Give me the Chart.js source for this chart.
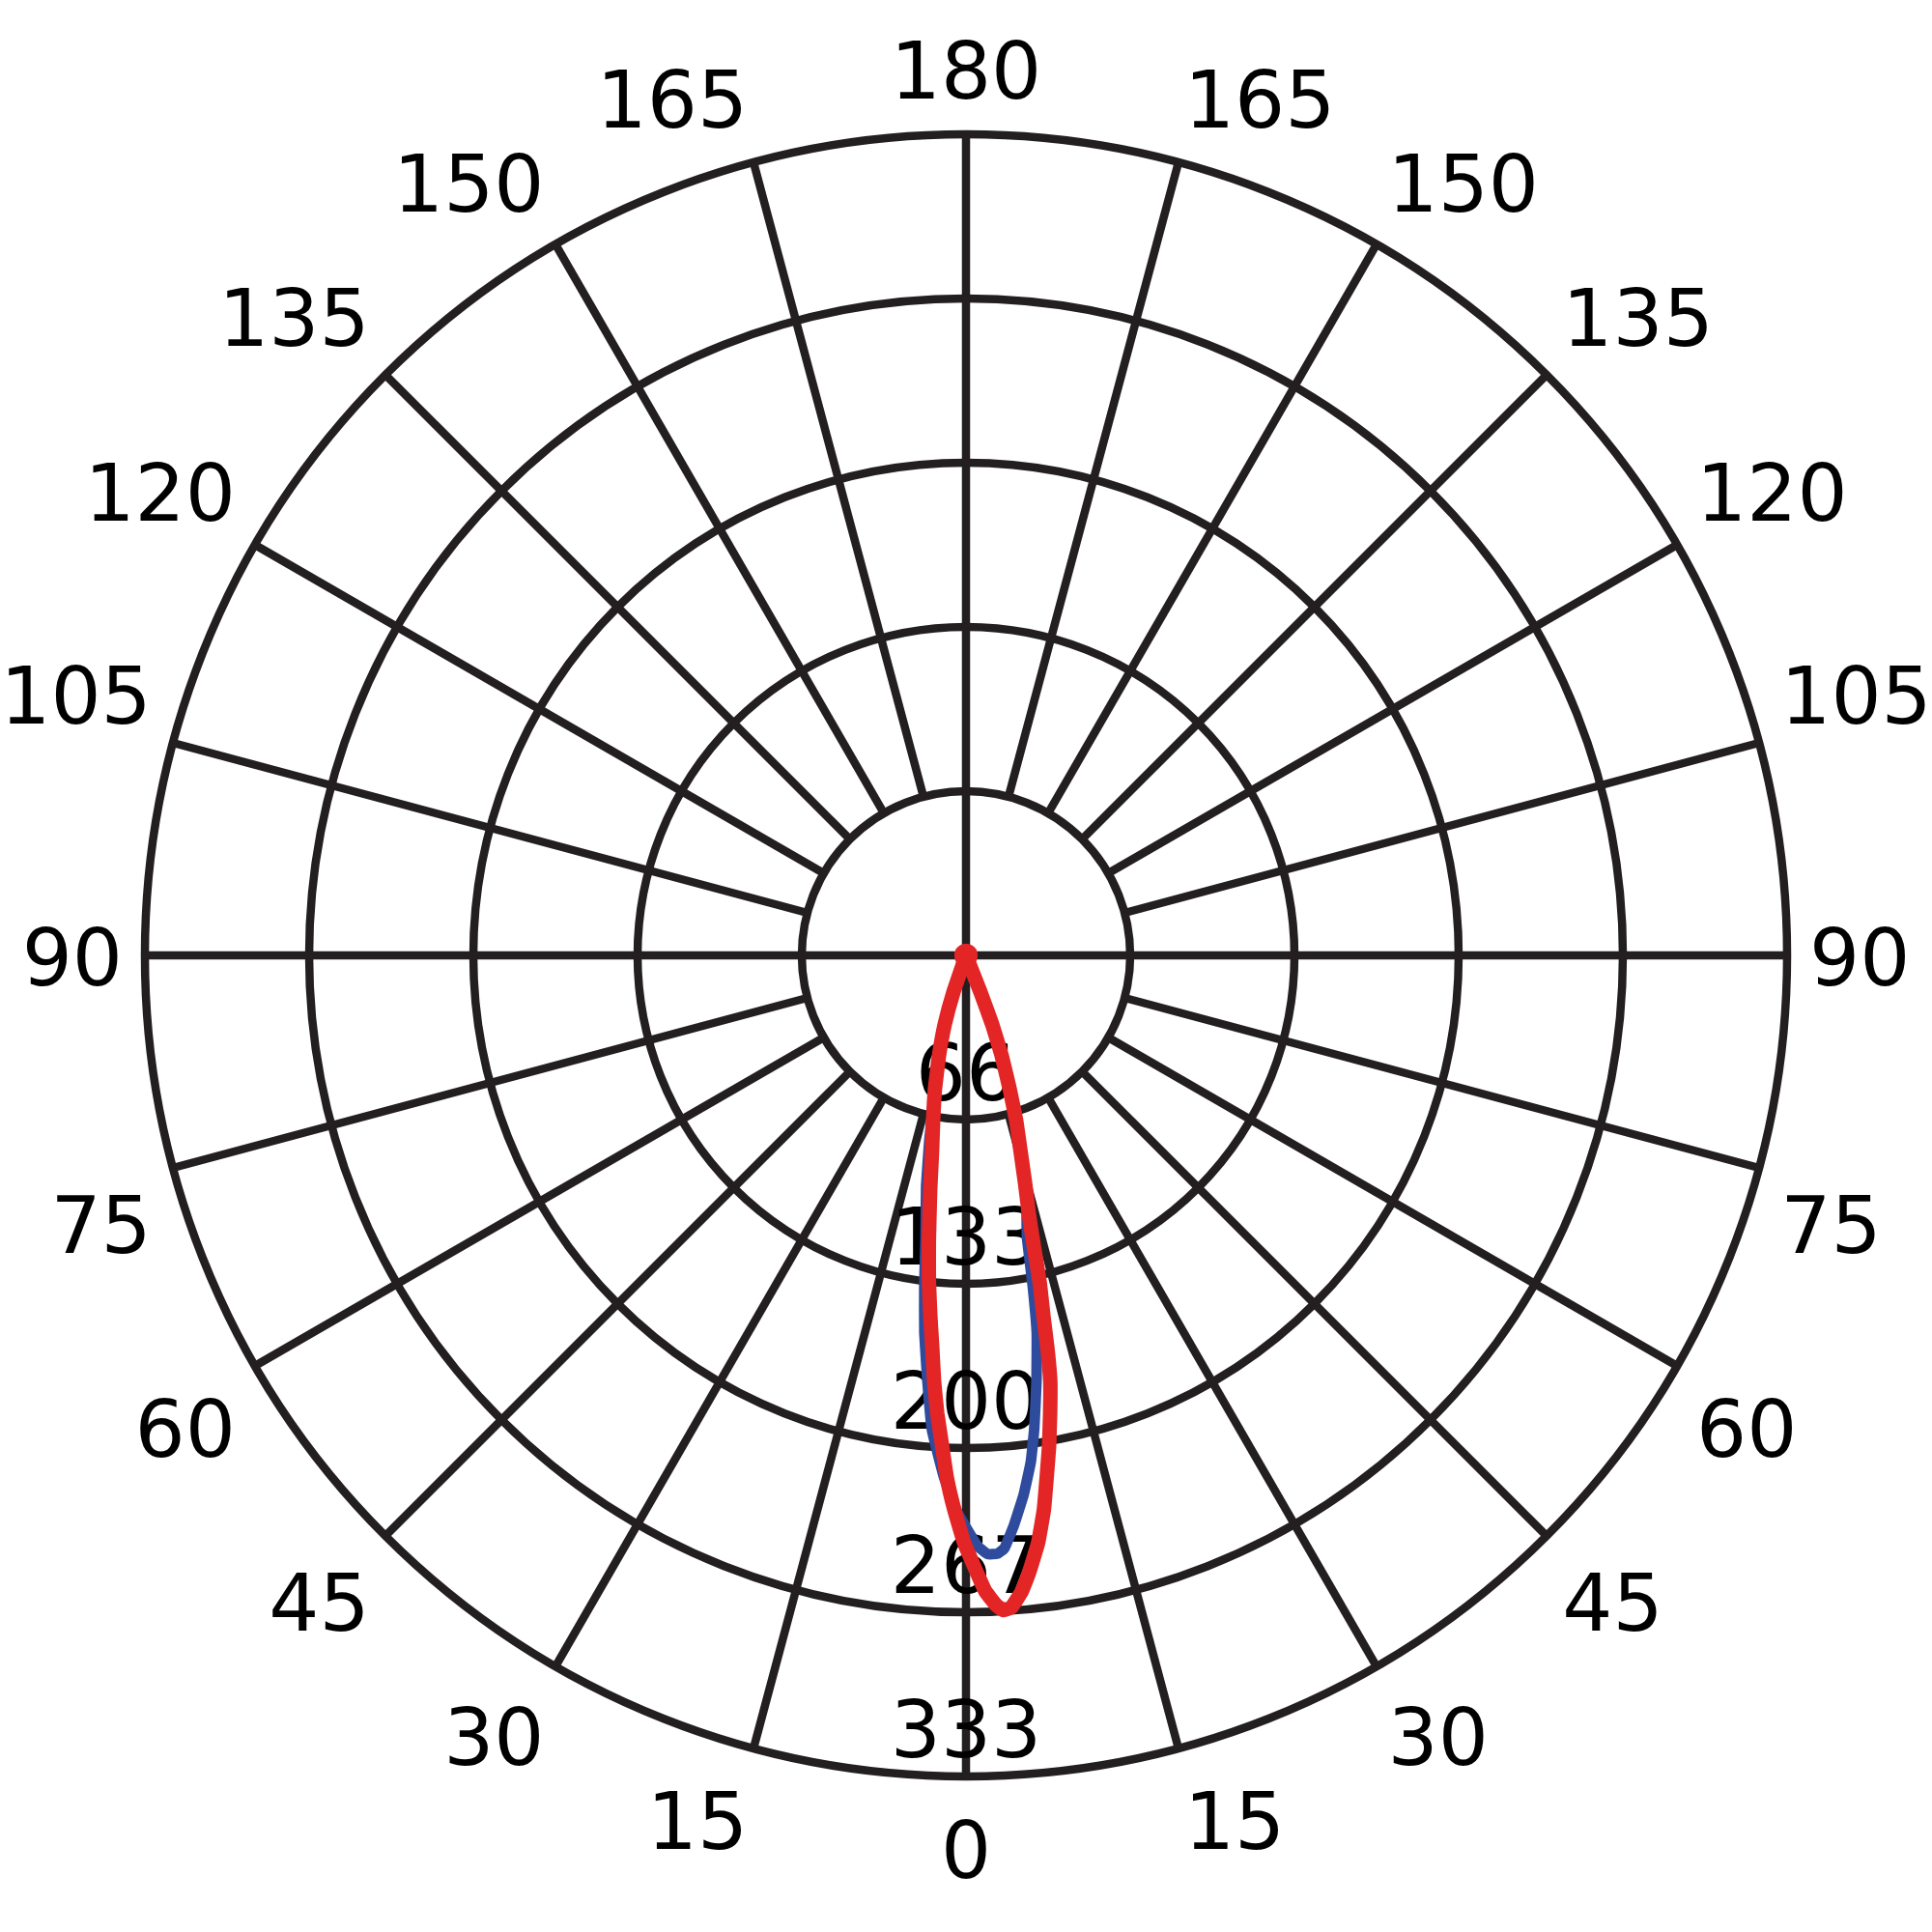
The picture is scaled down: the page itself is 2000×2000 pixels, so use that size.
<!DOCTYPE html>
<html>
<head>
<meta charset="utf-8">
<script src="https://cdn.jsdelivr.net/npm/chart.js@4.4.0/dist/chart.umd.min.js"></script>
<style>
  html, body { margin: 0; padding: 0; background: #fff; }
  #wrap { width: 2000px; height: 2000px; }
</style>
</head>
<body>
<div id="wrap"><canvas id="polar" width="2000" height="2000"></canvas></div>
<script>
// intensity rings and the numbers printed on them
var maxValue = 333;
var ringValues = [66.6, 133.2, 199.8, 266.4, 333];
var ringLabels = ["66", "133", "200", "267", "333"];

// angle ticks, degrees from nadir, drawn on both halves
var angleTicks = [0, 15, 30, 45, 60, 75, 90, 105, 120, 135, 150, 165, 180];

// blue curve: angle (deg, + is to the right of nadir) and intensity
var blueAngles = [-20, -18.9, -17.2, -15.1, -13.1, -11.25, -9.8, -8.2, -7.2, -6.3, -5.2, -4.1, -2.4, -1.0, 0.3, 1.2, 2.1, 3.0, 3.7, 4.8, 6.1, 7.3, 8.2, 9.4, 10.6, 11.4, 12.2, 13.4, 14.6, 15.7, 16.9, 18.1, 19.6, 20.8, 21.5, 22];
var blueValues = [0, 15.7, 29, 42, 55.5, 76, 95, 115, 135, 154, 173, 193, 212, 225, 234, 240, 243, 243, 241, 232, 220, 207, 194, 175, 156, 137, 117, 106, 96, 81, 70, 57, 43, 30, 16, 0];

// red curve
var redAngles = [-20, -18.9, -17.2, -15.1, -13.1, -11.3, -9.8, -8.7, -7.4, -6.5, -5.65, -4.9, -4.3, -3.6, -2.8, -2.1, -1.2, -0.2, 1.07, 1.74, 2.7, 3.3, 4.0, 5.0, 5.8, 7.0, 8.0, 8.8, 9.6, 10.4, 11.2, 11.7, 12.1, 12.7, 13.1, 13.6, 14.5, 15.7, 16.9, 18.1, 19.6, 20.8, 21.5, 22];
var redValues = [0, 15.7, 29, 42, 55.5, 68, 81, 96, 117, 133, 147, 160, 173, 186, 199, 212, 225, 238, 251, 258, 264, 266, 265, 259, 252, 240, 227, 214, 202, 189, 176, 163, 150, 136, 122, 109, 96, 81, 70, 57, 43, 30, 16, 0];

function toXY(angles, values) {
    return angles.map(function(a, i) {
        var t = a * Math.PI / 180;
        return { x: values[i] * Math.sin(t), y: -values[i] * Math.cos(t) };
    });
}

var gridColor = '#231f20';

// draws rings, spokes and labels from the x/y scales
var polarGrid = {
    id: 'polarGrid',
    beforeDatasetsDraw: function(chart) {
        var ctx = chart.ctx, xs = chart.scales.x, ys = chart.scales.y;
        var cx = xs.getPixelForValue(0), cy = ys.getPixelForValue(0);
        var k = xs.getPixelForValue(1) - cx;
        var R = maxValue * k, r0 = ringValues[0] * k;
        ctx.save();
        ctx.strokeStyle = gridColor;
        ctx.lineWidth = 8.5;

        ringValues.forEach(function(v) {
            ctx.beginPath();
            ctx.arc(cx, cy, v * k, 0, 2 * Math.PI);
            ctx.stroke();
        });

        // spokes every 15 deg, main axes go through the centre
        for (var a = 0; a < 360; a += 15) {
            var t = a * Math.PI / 180;
            var start = (a % 90 === 0) ? 0 : r0;
            ctx.beginPath();
            ctx.moveTo(cx + start * Math.sin(t), cy + start * Math.cos(t));
            ctx.lineTo(cx + R * Math.sin(t), cy + R * Math.cos(t));
            ctx.stroke();
        }

        ctx.fillStyle = '#000';
        ctx.font = '82px "DejaVu Sans"';
        ctx.textBaseline = 'alphabetic';

        // ring labels, just above each ring on the nadir axis
        ctx.textAlign = 'center';
        ringValues.forEach(function(v, i) {
            ctx.fillText(ringLabels[i], cx, cy + v * k - 20);
        });

        // angle labels round the outside
        var Ra = R + 23;
        angleTicks.forEach(function(deg) {
            var sides = (deg === 0 || deg === 180) ? [1] : [-1, 1];
            sides.forEach(function(s) {
                var t = deg * Math.PI / 180;
                var ux = s * Math.sin(t), uy = Math.cos(t);
                var ax = cx + ux * Ra, ay = cy + uy * Ra;
                if (Math.abs(ux) < 0.01) ctx.textAlign = 'center';
                else ctx.textAlign = ux < 0 ? 'right' : 'left';
                var by;
                if (uy > 0.01) by = ay + 82;
                else if (uy < -0.01) by = ay - 14;
                else by = ay + 31;
                ctx.fillText(String(deg), ax, by);
            });
        });
        ctx.restore();
    }
};

new Chart(document.getElementById('polar').getContext('2d'), {
    type: 'scatter',
    data: {
        datasets: [
            {
                label: 'red',
                data: toXY(redAngles, redValues),
                showLine: true,
                borderColor: '#e32526',
                backgroundColor: '#e32526',
                borderWidth: 15,
                pointRadius: function(c) { return redValues[c.dataIndex] === 0 ? 12 : 0; },
                pointBorderWidth: 0,
                tension: 0.1,
                borderJoinStyle: 'round',
                borderCapStyle: 'round',
                order: 0
            },
            {
                label: 'blue',
                data: toXY(blueAngles, blueValues),
                showLine: true,
                borderColor: '#2e4b9d',
                borderWidth: 11,
                pointRadius: 0,
                tension: 0.1,
                borderJoinStyle: 'round',
                borderCapStyle: 'round',
                order: 1
            }
        ]
    },
    options: {
        responsive: false,
        animation: false,
        devicePixelRatio: 1,
        layout: { padding: { left: 150, right: 150, top: 139, bottom: 161 } },
        plugins: { legend: { display: false }, tooltip: { enabled: false } },
        scales: {
            x: { type: 'linear', min: -maxValue, max: maxValue, display: false },
            y: { type: 'linear', min: -maxValue, max: maxValue, display: false }
        }
    },
    plugins: [polarGrid]
});
</script>
</body>
</html>
